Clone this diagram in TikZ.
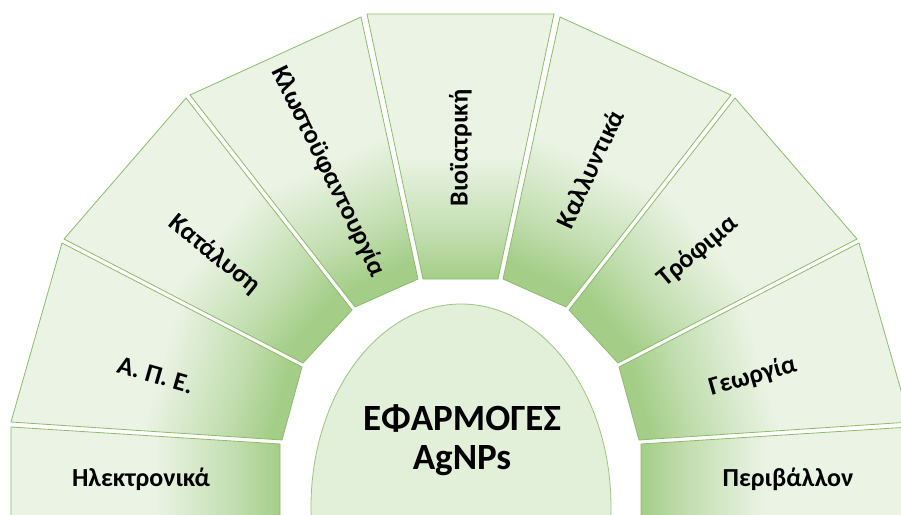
\documentclass[tikz,border=0pt]{standalone}
\usepackage{fontspec}
\setmainfont{Carlito}
\definecolor{tlight}{HTML}{EAF3E4}
\definecolor{tdark}{HTML}{A4CE88}
\definecolor{tborder}{HTML}{8DBB6A}
\definecolor{cfill}{HTML}{E2EFD9}
\definecolor{cborder}{HTML}{9CC47F}
\pgfdeclareverticalshading{tileshade}{100bp}{color(0bp)=(tdark); color(25bp)=(tdark); color(34bp)=(tdark!55!tlight); color(48bp)=(tlight); color(100bp)=(tlight)}
\begin{document}
\begin{tikzpicture}[x=1pt,y=-1pt,
  tile/.style={shade, shading=tileshade, draw=tborder, line width=0.8pt, line join=miter},
  lbl/.style={font=\bfseries\fontsize{26}{30}\selectfont, text=black, text height=18pt, text depth=5pt, inner sep=0pt},
  ctr/.style={font=\bfseries\fontsize{37}{39}\selectfont, text=black, align=center, inner sep=0pt}]
\useasboundingbox (0,0) rectangle (901,514);
\clip (0,0) rectangle (901,514);
% tiles, left half
\path[tile, shading angle=90]  (11,427) -- (280,444) -- (280,530) -- (11,530) -- cycle;
\path[tile, shading angle=74]  (11,422) -- (282,440) -- (302,367) -- (62,243) -- cycle;
\path[tile, shading angle=50]  (64,239) -- (303,363) -- (352,310) -- (186,98) -- cycle;
\path[tile, shading angle=25]  (190,95) -- (355,307) -- (418,279) -- (361,17) -- cycle;
% middle
\path[tile, shading angle=0]   (367,14) -- (423,279) -- (498,279) -- (554,14) -- cycle;
% tiles, right half
\path[tile, shading angle=-25] (731,95) -- (566,307) -- (503,279) -- (560,17) -- cycle;
\path[tile, shading angle=-50] (857,239) -- (618,363) -- (569,310) -- (735,98) -- cycle;
\path[tile, shading angle=-74] (910,422) -- (639,440) -- (619,367) -- (859,243) -- cycle;
\path[tile, shading angle=-90] (910,427) -- (641,444) -- (641,530) -- (910,530) -- cycle;
% centre
\draw[fill=cfill, draw=cborder, line width=0.8pt] (461,507) ellipse [x radius=150, y radius=203];
% labels
\node[lbl] (ele) at (141,480) {Ηλεκτρονικά};
\node[lbl, rotate=-16] (ape) at (155,377) {Α. Π. Ε.};
\node[lbl, rotate=-39] (kat) at (214,255) {Κατάλυση};
\node[lbl, rotate=-64] (klo) at (328,172) {Κλωστοϋφαντουργία};
\node[lbl, rotate=90] (bio) at (461,148) {Βιοϊατρική};
\node[lbl, rotate=65] (kal) at (592,170) {Καλλυντικά};
\node[lbl, rotate=40] (tro) at (698,252) {Τρόφιμα};
\node[lbl, rotate=16] (geo) at (753,377) {Γεωργία};
\node[lbl] (per) at (788,480) {Περιβάλλον};
\node[ctr] (main) at (462,440) {ΕΦΑΡΜΟΓΕΣ\\AgNPs};
\end{tikzpicture}
\end{document}
